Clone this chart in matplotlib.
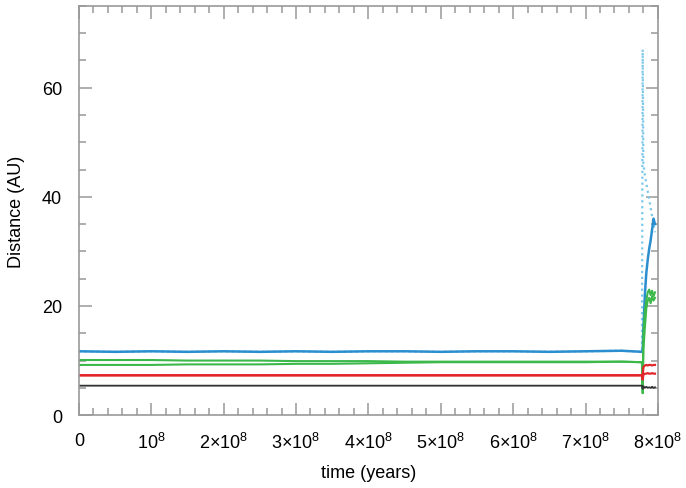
import matplotlib.pyplot as plt
from matplotlib.ticker import MultipleLocator, FixedLocator

# time in units of 1e8 years
t = [0, 0.5, 1, 1.5, 2, 2.5, 3, 3.5, 4, 4.5, 5, 5.5, 6, 6.5, 7, 7.5, 7.78,
     7.79, 7.80, 7.82, 7.84, 7.86, 7.88, 7.90, 7.92, 7.94, 7.96]

blue = [11.7, 11.6, 11.7, 11.6, 11.7, 11.6, 11.7, 11.6, 11.7, 11.7, 11.6, 11.7, 11.7, 11.6, 11.7, 11.8, 11.6,
        12.0, 16.0, 22.0, 26.0, 28.5, 30.5, 32.0, 34.0, 36.0, 35.0]
blue_dot = [11.7, 11.6, 11.7, 11.6, 11.7, 11.6, 11.7, 11.6, 11.7, 11.7, 11.6, 11.7, 11.7, 11.6, 11.7, 11.8, 11.6,
            67.0, 46.0, 44.0, 42.5, 41.0, 39.5, 38.0, 36.5, 35.0, 33.5]
green1 = [10.1, 10.1, 10.1, 10.0, 10.0, 10.0, 9.9, 9.9, 9.9, 9.8, 9.8, 9.8, 9.8, 9.8, 9.8, 9.8, 9.7,
          4.0, 15.0, 19.0, 21.0, 22.5, 23.0, 22.0, 22.8, 21.8, 22.5]
green2 = [9.2, 9.2, 9.2, 9.3, 9.3, 9.3, 9.4, 9.4, 9.5, 9.6, 9.7, 9.7, 9.7, 9.7, 9.7, 9.8, 9.7,
          5.0, 12.0, 16.0, 19.5, 21.0, 21.5, 20.5, 21.8, 21.0, 21.5]
red1 = [7.3, 7.3, 7.3, 7.3, 7.3, 7.3, 7.3, 7.3, 7.3, 7.3, 7.3, 7.3, 7.3, 7.3, 7.3, 7.3, 7.3,
        7.4, 8.8, 9.1, 9.2, 9.1, 9.2, 9.2, 9.1, 9.2, 9.2]
red2 = [7.3, 7.3, 7.3, 7.3, 7.3, 7.3, 7.3, 7.3, 7.3, 7.3, 7.3, 7.3, 7.3, 7.3, 7.3, 7.3, 7.3,
        6.5, 7.4, 7.6, 7.6, 7.7, 7.6, 7.6, 7.7, 7.6, 7.6]
black = [5.4, 5.4, 5.4, 5.4, 5.4, 5.4, 5.4, 5.4, 5.4, 5.4, 5.4, 5.4, 5.4, 5.4, 5.4, 5.4, 5.4,
         4.8, 5.3, 5.0, 5.2, 5.0, 5.1, 5.0, 5.2, 5.0, 5.1]

xticks = [0, 1, 2, 3, 4, 5, 6, 7, 8]
xlabels = ['0', '10$^8$', '2×10$^8$', '3×10$^8$', '4×10$^8$',
           '5×10$^8$', '6×10$^8$', '7×10$^8$', '8×10$^8$']

plt.rcParams['font.family'] = ['Liberation Sans', 'DejaVu Sans']
plt.rcParams['mathtext.fontset'] = 'custom'
plt.rcParams['mathtext.rm'] = 'Liberation Sans'

fig = plt.figure(figsize=(6.86, 4.89), dpi=100)
ax = fig.add_axes([0.115, 0.149, 0.844, 0.837])

ax.plot(t, blue_dot, color='#7cc8ea', linewidth=1.6, linestyle=':')
ax.plot(t, blue, color='#2b8fcf', linewidth=1.8)
ax.plot(t, green1, color='#3cb94a', linewidth=1.5)
ax.plot(t, green2, color='#3cb94a', linewidth=1.5)
ax.plot(t, red1, color='#e3262b', linewidth=1.6)
ax.plot(t, red2, color='#e3262b', linewidth=1.6)
ax.plot(t, black, color='#333333', linewidth=1.3)

ax.set_xlim(0, 8)
ax.set_ylim(0, 75)
ax.xaxis.set_major_locator(FixedLocator(xticks))
ax.set_xticklabels(xlabels)
ax.xaxis.set_minor_locator(MultipleLocator(0.2))
ax.yaxis.set_major_locator(FixedLocator([0, 20, 40, 60]))
ax.yaxis.set_minor_locator(MultipleLocator(5))

for s in ax.spines.values():
    s.set_color('#999999')
    s.set_linewidth(1.2)
ax.tick_params(which='both', direction='in', top=True, right=True,
               color='#999999', width=1.1, labelsize=13)
ax.tick_params(axis='x', pad=12)
ax.tick_params(axis='y', pad=12)
ax.tick_params(which='major', length=9)
ax.tick_params(which='minor', length=5)

ax.set_xlabel('time (years)', fontsize=13, labelpad=9)
ax.set_ylabel('Distance (AU)', fontsize=13, labelpad=12)

fig.savefig('out.png', dpi=100)
